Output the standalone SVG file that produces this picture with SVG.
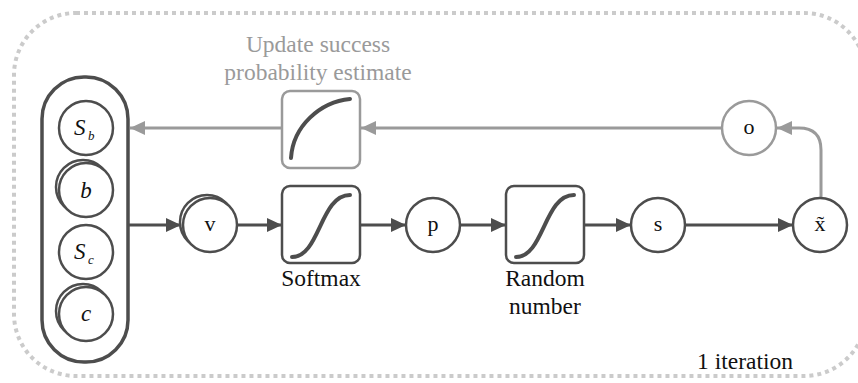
<svg xmlns="http://www.w3.org/2000/svg" width="858" height="383" viewBox="0 0 858 383">
  <defs>
    <marker id="arrowDark" markerUnits="userSpaceOnUse" markerWidth="16" markerHeight="14" refX="15" refY="7" orient="auto">
      <path d="M0,0 L15,7 L0,14 z" fill="#4d4d4d"/>
    </marker>
    <marker id="arrowGray" markerUnits="userSpaceOnUse" markerWidth="16" markerHeight="14" refX="15" refY="7" orient="auto">
      <path d="M0,0 L15,7 L0,14 z" fill="#9a9a9a"/>
    </marker>
  </defs>
  <style>
    text { font-family: "Liberation Serif", "Times New Roman", serif; }
    .frame { fill: none; stroke: #cbcbcb; stroke-width: 4; stroke-dasharray: 4 4; }
    .node { fill: #ffffff; stroke: #4d4d4d; stroke-width: 2.5; }
    .node-gray { fill: #ffffff; stroke: #9a9a9a; stroke-width: 2.5; }
    .box { fill: #ffffff; stroke: #4d4d4d; stroke-width: 2.5; }
    .box-gray { fill: #ffffff; stroke: #9a9a9a; stroke-width: 2.5; }
    .curve { fill: none; stroke: #4d4d4d; stroke-width: 4; stroke-linecap: round; }
    .container { fill: #ffffff; stroke: #4d4d4d; stroke-width: 3.5; }
    .edge { fill: none; stroke: #4d4d4d; stroke-width: 3; marker-end: url(#arrowDark); }
    .edge-gray { fill: none; stroke: #9a9a9a; stroke-width: 3; marker-end: url(#arrowGray); }
    .sym { font-size: 22px; fill: #111111; text-anchor: middle; }
    .math { font-size: 23px; font-style: italic; fill: #111111; }
    .sub { font-size: 13px; font-style: italic; fill: #111111; }
    .label { font-size: 23.5px; fill: #111111; text-anchor: middle; }
    .label-gray { font-size: 23.5px; fill: #9a9a9a; text-anchor: middle; }
  </style>

  <!-- iteration frame -->
  <rect class="frame" x="14" y="13" width="852" height="363" rx="62" ry="62"/>
  <text class="label" x="745" y="369">1 iteration</text>

  <!-- connectors -->
  <g id="connectors">
    <path class="edge" d="M128,225 H181"/>
    <path class="edge" d="M237,225 H282"/>
    <path class="edge" d="M360,225 H406"/>
    <path class="edge" d="M460,225 H506"/>
    <path class="edge" d="M584,225 H631"/>
    <path class="edge" d="M685,225 H793"/>
    <path class="edge-gray" d="M821,198 V150 Q821,128 799,128 H777"/>
    <path class="edge-gray" d="M722,128 H361"/>
    <path class="edge-gray" d="M282,128 H130"/>
  </g>

  <!-- parameter stack -->
  <g id="params">
    <rect class="container" x="42" y="77" width="86" height="285" rx="42" ry="42"/>
    <g id="node-Sb">
      <circle class="node" cx="86" cy="128" r="27"/>
      <text class="math" x="74" y="135">S</text>
      <text class="sub" x="88" y="140">b</text>
    </g>
    <g id="node-b">
      <circle class="node" cx="83" cy="187" r="27"/>
      <circle class="node" cx="86" cy="190" r="27"/>
      <text class="math" x="86" y="198" text-anchor="middle">b</text>
    </g>
    <g id="node-Sc">
      <circle class="node" cx="86" cy="252" r="27"/>
      <text class="math" x="74" y="259">S</text>
      <text class="sub" x="88" y="264">c</text>
    </g>
    <g id="node-c">
      <circle class="node" cx="83" cy="311" r="27"/>
      <circle class="node" cx="86" cy="314" r="27"/>
      <text class="math" x="86" y="321" text-anchor="middle">c</text>
    </g>
  </g>

  <g id="node-v">
    <circle class="node" cx="207" cy="222" r="27"/>
    <circle class="node" cx="210" cy="225" r="27"/>
    <text class="sym" x="210" y="231">v</text>
  </g>

  <g id="node-softmax">
    <rect class="box" x="282" y="186" width="78" height="77" rx="8" ry="8"/>
    <path class="curve" d="M292,257 C320,257 320,195 350,195"/>
    <text class="label" x="321" y="286">Softmax</text>
  </g>

  <g id="node-p">
    <circle class="node" cx="433" cy="225" r="27"/>
    <text class="sym" x="433" y="231">p</text>
  </g>

  <g id="node-random">
    <rect class="box" x="506" y="186" width="78" height="77" rx="8" ry="8"/>
    <path class="curve" d="M516,257 C544,257 544,195 574,195"/>
    <text class="label" x="545" y="286">Random</text>
    <text class="label" x="545" y="314">number</text>
  </g>

  <g id="node-s">
    <circle class="node" cx="658" cy="225" r="27"/>
    <text class="sym" x="658" y="231">s</text>
  </g>

  <g id="node-xtilde">
    <circle class="node" cx="820" cy="225" r="27"/>
    <text class="sym" x="820" y="231">x̃</text>
  </g>

  <g id="node-o">
    <circle class="node-gray" cx="749" cy="128" r="27"/>
    <text class="sym" x="749" y="134">o</text>
  </g>

  <g id="node-update">
    <rect class="box-gray" x="282" y="91" width="78" height="77" rx="8" ry="8"/>
    <path class="curve" d="M291,158 C293,126 320,102 350,99"/>
    <text class="label-gray" x="318" y="52">Update success</text>
    <text class="label-gray" x="318" y="80">probability estimate</text>
  </g>
</svg>
